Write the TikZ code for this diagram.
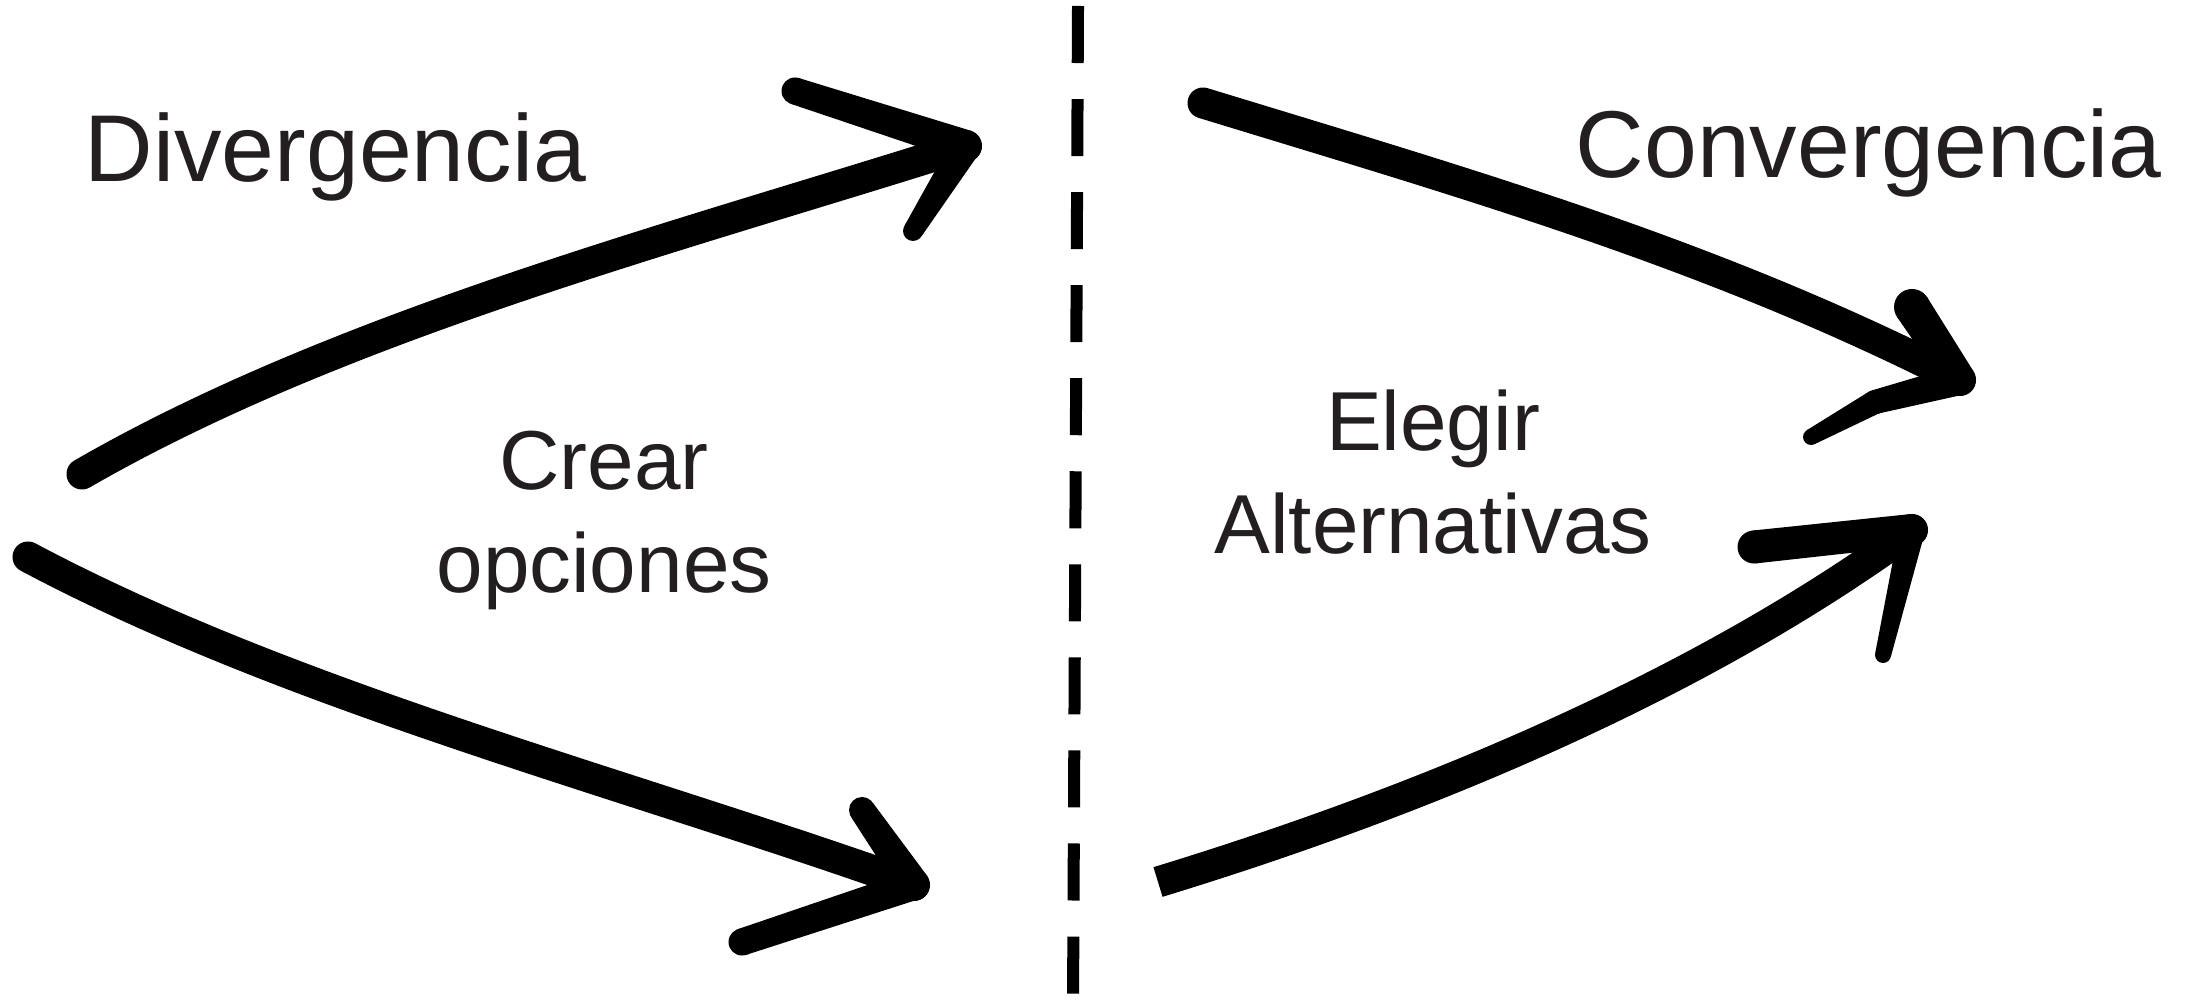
\documentclass[tikz,border=0pt]{standalone}
\usepackage{fontspec}
\setmainfont{Liberation Sans}
\usetikzlibrary{calc}
\definecolor{txt}{RGB}{35,31,32}
% tapered barb: #1 outer end, #2 tip, #3 half width at end, #4 half width at tip
\newcommand\mybarb[4]{%
  \fill ($(#1)!#3!90:(#2)$) -- ($(#2)!#4!-90:(#1)$) -- ($(#2)!#4!90:(#1)$) -- ($(#1)!#3!-90:(#2)$) -- cycle;
  \fill (#1) circle[radius=#3];
  \fill (#2) circle[radius=#4];
}
\begin{document}
\begin{tikzpicture}[x=0.01cm, y=-0.01cm,
  shaft/.style={line width=3.1mm, line cap=round},
  big/.style={font=\fontsize{27pt}{32pt}\selectfont, text=txt, inner sep=0pt, anchor=base west},
  small/.style={font=\fontsize{23.8pt}{29.3pt}\selectfont, text=txt, inner sep=0pt, align=center, anchor=base},
  divider/.style={line width=1.2mm, dash pattern=on 5.7mm off 3.6mm}]
\useasboundingbox[fill=white] (0,0) rectangle (2198,1004);

% labels
\node[big] (div) at (84,182) {Divergencia};
\node[big] (conv) at (1575,178) {Convergencia};
\node[small] (crear) at (604,593) {Crear\\opciones};
\node[small] (elegir) at (1433,554) {Elegir\\Alternativas};

% divider
\coordinate (dtop) at (1078,6);
\coordinate (dbot) at (1073,1004);
\draw[divider] (dtop) -- (dbot);

% arrow A: upper left
\coordinate (a0) at (82,474);
\coordinate (a1) at (966,146);
\coordinate (ab1) at (795,91);
\coordinate (ab2) at (913,231);
\draw[shaft] (a0) .. controls (342,324) and (683,236) .. (a1);
\mybarb{ab1}{a1}{1.35mm}{1.6mm}
\mybarb{ab2}{a1}{1.0mm}{1.5mm}

% arrow B: lower left
\coordinate (b0) at (28,557);
\coordinate (b1) at (914,885);
\coordinate (bb1) at (862,810);
\coordinate (bb2) at (742,942);
\draw[shaft] (b0) .. controls (293,698) and (628,783) .. (b1);
\mybarb{bb1}{b1}{1.3mm}{1.6mm}
\mybarb{bb2}{b1}{1.35mm}{1.5mm}

% arrow C: upper right
\coordinate (c0) at (1203,103);
\coordinate (c1) at (1960,380);
\coordinate (cb1) at (1912,307);
\coordinate (ck) at (1875,402);
\coordinate (cb2) at (1811,437);
\draw[shaft] (c0) .. controls (1471,185) and (1713,254) .. (c1);
\mybarb{cb1}{c1}{1.8mm}{1.6mm}
\mybarb{ck}{c1}{1.2mm}{1.5mm}
\mybarb{cb2}{ck}{0.8mm}{1.2mm}

% arrow D: lower right
\coordinate (d0) at (1158,882);
\coordinate (d1) at (1912,530);
\coordinate (db1) at (1754,547);
\coordinate (db2) at (1883,655);
\draw[shaft, line cap=butt] (d0) .. controls (1426,800) and (1700,685) .. (d1);
\mybarb{db1}{d1}{1.65mm}{1.6mm}
\mybarb{db2}{d1}{0.8mm}{1.3mm}
\end{tikzpicture}
\end{document}
